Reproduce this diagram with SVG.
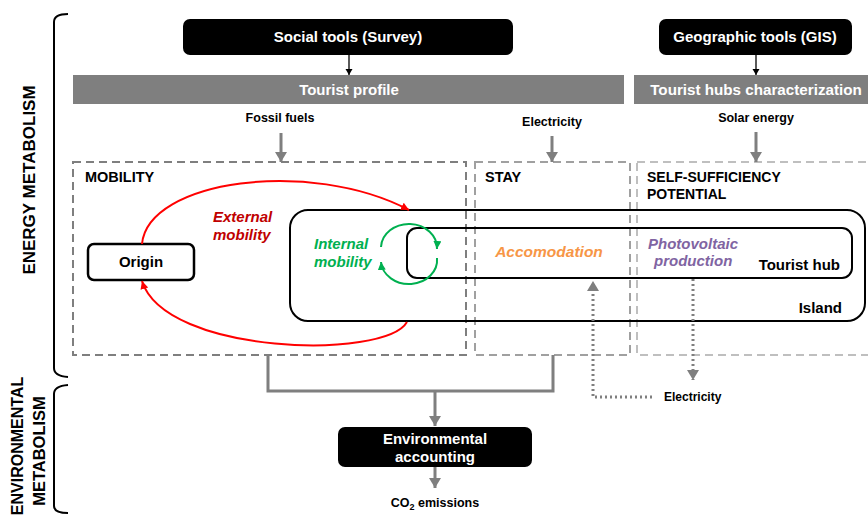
<svg xmlns="http://www.w3.org/2000/svg" width="868" height="521" viewBox="0 0 868 521">
<style>
.t{font-family:"Liberation Sans",Arial,sans-serif;font-weight:bold}
.i{font-style:italic}
.w{fill:#fff}
.k{fill:#000}
.c{text-anchor:middle}
.e{text-anchor:end}
.blackbox{fill:#000}
.bar{fill:#7f7f7f}
.frame{fill:none;stroke-width:2;stroke-dasharray:8 5}
.solid{fill:none;stroke:#000;stroke-width:2}
.garrow{fill:none;stroke:#7f7f7f;stroke-width:3}
.dot{fill:none;stroke:#7f7f7f;stroke-width:3;stroke-dasharray:2 3}
.red{fill:none;stroke:#ff0000;stroke-width:2}
.green{fill:none;stroke:#00b050;stroke-width:2}
</style>
<defs>
<marker id="ag" markerUnits="userSpaceOnUse" markerWidth="12" markerHeight="12" refX="10" refY="6" orient="auto"><path d="M0,0 L10,6 L0,12 z" fill="#7f7f7f"/></marker>
<marker id="ak" markerUnits="userSpaceOnUse" markerWidth="8" markerHeight="8" refX="6" refY="3.5" orient="auto"><path d="M0,0 L6,3.5 L0,7 z" fill="#000"/></marker>
<marker id="ar" markerUnits="userSpaceOnUse" markerWidth="10" markerHeight="10" refX="8" refY="4" orient="auto"><path d="M0,0 L8,4 L0,8 z" fill="#ff0000"/></marker>
<marker id="agr" markerUnits="userSpaceOnUse" markerWidth="10" markerHeight="10" refX="8" refY="4" orient="auto"><path d="M0,0 L8,4 L0,8 z" fill="#00b050"/></marker>
</defs>

<g id="brackets">
<path class="solid" d="M68,14 Q54,14 54,22 L54,368 Q54,376 68,377"/>
<path class="solid" d="M68,385 Q54,386 54,394 L54,506 Q54,513 68,513"/>
<text class="t k c" font-size="17" transform="translate(35,180) rotate(-90)">ENERGY METABOLISM</text>
<text class="t k c" font-size="16" transform="translate(23,446) rotate(-90)">ENVIRONMENTAL</text>
<text class="t k c" font-size="16.5" transform="translate(45,451) rotate(-90)">METABOLISM</text>
</g>

<g id="social-tools">
<rect class="blackbox" x="183" y="19" width="330" height="36" rx="7"/>
<text class="t w c" font-size="15" x="348" y="42">Social tools (Survey)</text>
</g>
<g id="geographic-tools">
<rect class="blackbox" x="659" y="19" width="193" height="36" rx="7"/>
<text class="t w c" font-size="15" x="755" y="42">Geographic tools (GIS)</text>
</g>
<g id="tourist-profile">
<rect class="bar" x="73" y="75" width="551" height="29"/>
<text class="t w c" font-size="15" x="349" y="95">Tourist profile</text>
</g>
<g id="tourist-hubs-characterization">
<rect class="bar" x="634" y="75" width="240" height="29"/>
<text class="t w c" font-size="15.2" x="756" y="95">Tourist hubs characterization</text>
</g>

<g id="inputs">
<text class="t k c" font-size="12.5" x="280" y="122">Fossil fuels</text>
<text class="t k c" font-size="12.5" x="552" y="126">Electricity</text>
<text class="t k c" font-size="12.5" x="756" y="122">Solar energy</text>
</g>

<g id="mobility">
<rect class="frame" stroke="#7f7f7f" x="73" y="162" width="393" height="193"/>
<text class="t k" font-size="14.5" x="85" y="182">MOBILITY</text>
</g>
<g id="stay">
<rect class="frame" stroke="#a0a0a0" x="475" y="162" width="155" height="193"/>
<text class="t k" font-size="14.5" x="485" y="182">STAY</text>
</g>
<g id="self-sufficiency">
<rect class="frame" stroke="#bfbfbf" x="637" y="162" width="260" height="193"/>
<text class="t k" font-size="14" x="647" y="182">SELF-SUFFICIENCY</text>
<text class="t k" font-size="14" x="647" y="199">POTENTIAL</text>
</g>

<g id="island">
<rect class="solid" x="290" y="210" width="575" height="111" rx="18"/>
<text class="t k e" font-size="15" x="842" y="313">Island</text>
</g>
<g id="tourist-hub">
<rect class="solid" x="407" y="228" width="445" height="50" rx="10"/>
<text class="t k e" font-size="15" x="840" y="270">Tourist hub</text>
</g>
<g id="origin">
<rect fill="#fff" stroke="#000" stroke-width="2.5" x="88" y="244" width="106" height="36" rx="6"/>
<text class="t k c" font-size="15" x="141" y="267">Origin</text>
</g>

<g id="labels">
<text class="t i" font-size="15" fill="#c00000" x="213" y="222">External</text>
<text class="t i" font-size="15" fill="#c00000" x="213" y="240">mobility</text>
<text class="t i" font-size="15" fill="#00b050" x="314" y="249">Internal</text>
<text class="t i" font-size="15" fill="#00b050" x="314" y="267">mobility</text>
<text class="t i c" font-size="15.5" fill="#f79646" x="549" y="257">Accomodation</text>
<text class="t i" font-size="15" fill="#8064a2" x="648" y="249">Photovoltaic</text>
<text class="t i" font-size="15" fill="#8064a2" x="654" y="266">production</text>
</g>

<g id="environmental-accounting">
<rect class="blackbox" x="338" y="427" width="194" height="40" rx="7"/>
<text class="t w c" font-size="15" x="435" y="444">Environmental</text>
<text class="t w c" font-size="15" x="435" y="462">accounting</text>
</g>
<g id="outputs">
<text class="t k c" font-size="12.5" x="435" y="507">CO<tspan font-size="9" dy="3">2</tspan><tspan dy="-3"> emissions</tspan></text>
<text class="t k" font-size="12" x="664" y="401">Electricity</text>
</g>

<g id="connectors">
<line stroke="#000" stroke-width="1.3" x1="349" y1="55" x2="349" y2="75" marker-end="url(#ak)"/>
<line stroke="#000" stroke-width="1.3" x1="756" y1="55" x2="756" y2="75" marker-end="url(#ak)"/>
<line class="garrow" x1="281" y1="133" x2="281" y2="162" marker-end="url(#ag)"/>
<line class="garrow" x1="552" y1="136" x2="552" y2="162" marker-end="url(#ag)"/>
<line class="garrow" x1="756" y1="132" x2="756" y2="162" marker-end="url(#ag)"/>
<path class="red" d="M142,244 C148,180 310,158 409,210" marker-end="url(#ar)"/>
<path class="red" d="M407,322 C385,360 165,355 142,281" marker-end="url(#ar)"/>
<path class="green" d="M381,247 A28,24 0 0 1 437,249" marker-end="url(#agr)"/>
<path class="green" d="M437,258 A28,24 0 0 1 381,262" marker-end="url(#agr)"/>
<path class="garrow" d="M268,355 V391 H553 V355"/>
<line class="garrow" x1="435" y1="391" x2="435" y2="426" marker-end="url(#ag)"/>
<line class="garrow" x1="435" y1="467" x2="435" y2="488" marker-end="url(#ag)"/>
<path class="dot" d="M652,397 H593 V281" marker-end="url(#ag)"/>
<line class="dot" x1="693" y1="279" x2="693" y2="380" marker-end="url(#ag)"/>
</g>
</svg>
